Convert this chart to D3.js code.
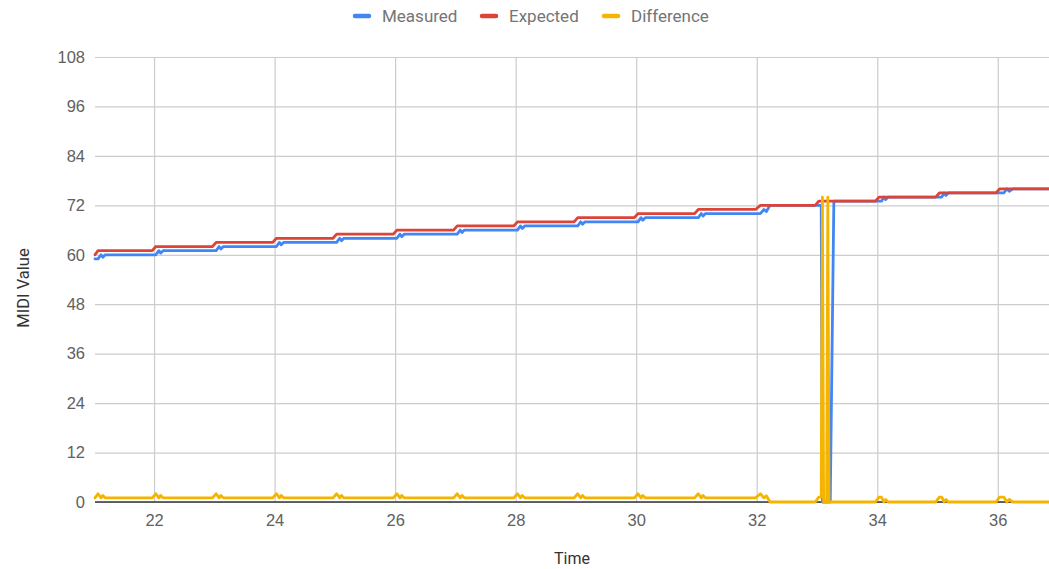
<!DOCTYPE html>
<html>
<head>
<meta charset="utf-8">
<script src="https://cdn.jsdelivr.net/npm/d3@7"></script>
<style>
  html, body { margin: 0; padding: 0; background: #fff; }
  svg { display: block; font-family: Roboto, "Noto Sans", Arial, sans-serif; }
</style>
</head>
<body>
<svg id="chart" width="1049" height="569"></svg>
<script>
// ---- Data ----
const seriesNames = ["Measured", "Expected", "Difference"];
const seriesColors = ["#4285F4", "#DB4437", "#F4B400"];

const time = [
  21.02, 21.07, 21.12, 21.15, 21.19,
  21.97, 22.03, 22.08, 22.11, 22.15,
  22.97, 23.03, 23.08, 23.11, 23.15,
  23.97, 24.03, 24.08, 24.11, 24.15,
  24.97, 25.03, 25.08, 25.11, 25.15,
  25.97, 26.03, 26.08, 26.11, 26.15,
  26.97, 27.03, 27.08, 27.11, 27.15,
  27.97, 28.03, 28.08, 28.11, 28.15,
  28.97, 29.03, 29.08, 29.11, 29.15,
  29.97, 30.03, 30.08, 30.11, 30.15,
  30.97, 31.03, 31.08, 31.11, 31.15,
  31.98, 32.06, 32.12, 32.16, 32.22,
  32.97, 33.03, 33.07, 33.09, 33.11, 33.16, 33.18, 33.20, 33.22, 33.28,
  33.97, 34.03, 34.07, 34.11, 34.14, 34.18,
  34.97, 35.03, 35.07, 35.11, 35.14, 35.18,
  35.97, 36.03, 36.10, 36.15, 36.19, 36.25,
  36.85
];

const measured = [
  59, 59, 60, 59.4, 60,
  60, 60, 61, 60.4, 61,
  61, 61, 62, 61.4, 62,
  62, 62, 63, 62.4, 63,
  63, 63, 64, 63.4, 64,
  64, 64, 65, 64.4, 65,
  65, 65, 66, 65.4, 66,
  66, 66, 67, 66.4, 67,
  67, 67, 68, 67.4, 68,
  68, 68, 69, 68.4, 69,
  69, 69, 70, 69.4, 70,
  70, 70, 71, 70.5, 72,
  72, 72, 72, 0, 0, 0, 0, 0, 0, 73,
  73, 73, 73, 74, 73.4, 74,
  74, 74, 74, 75, 74.4, 75,
  75, 75, 75, 76, 75.4, 76,
  76
];

const expected = [
  60, 61, 61, 61, 61,
  61, 62, 62, 62, 62,
  62, 63, 63, 63, 63,
  63, 64, 64, 64, 64,
  64, 65, 65, 65, 65,
  65, 66, 66, 66, 66,
  66, 67, 67, 67, 67,
  67, 68, 68, 68, 68,
  68, 69, 69, 69, 69,
  69, 70, 70, 70, 70,
  70, 71, 71, 71, 71,
  71, 72, 72, 72, 72,
  72, 73, 73, 73, 73, 73, 73, 73, 73, 73,
  73, 74, 74, 74, 74, 74,
  74, 75, 75, 75, 75, 75,
  75, 76, 76, 76, 76, 76,
  76
];

const difference = [
  1, 2, 1, 1.6, 1,
  1, 2, 1, 1.6, 1,
  1, 2, 1, 1.6, 1,
  1, 2, 1, 1.6, 1,
  1, 2, 1, 1.6, 1,
  1, 2, 1, 1.6, 1,
  1, 2, 1, 1.6, 1,
  1, 2, 1, 1.6, 1,
  1, 2, 1, 1.6, 1,
  1, 2, 1, 1.6, 1,
  1, 2, 1, 1.6, 1,
  1, 2, 1, 1.5, 0,
  0, 1.2, 1.2, 74, 0, 0, 74, 0, 0, 0,
  0, 1.2, 1.2, 0, 0.6, 0,
  0, 1.2, 1.2, 0, 0.6, 0,
  0, 1.2, 1.2, 0, 0.6, 0,
  0
];

const xTicks = [22, 24, 26, 28, 30, 32, 34, 36];
const yTicks = [0, 12, 24, 36, 48, 60, 72, 84, 96, 108];
const xTitle = "Time";
const yTitle = "MIDI Value";

// ---- Layout ----
const svg = d3.select("#chart");
const plotL = 95, plotR = 1049, plotT = 57, plotB = 502;

const x = d3.scaleLinear().domain([d3.min(time), d3.max(time)]).range([plotL, plotR]);
const y = d3.scaleLinear().domain([0, 108]).range([plotB, plotT]);

// Gridlines (horizontal)
const yAxis = d3.axisLeft(y).tickValues(yTicks).tickSize(-(plotR - plotL)).tickPadding(10).tickFormat(d3.format("d"));
const gy = svg.append("g").attr("transform", `translate(${plotL},0)`).call(yAxis);
gy.select(".domain").remove();
gy.selectAll(".tick line").attr("stroke", "#cccccc").attr("stroke-width", 1.2);
gy.selectAll(".tick text").attr("fill", "#616161").attr("font-size", 16.5).attr("x", -10);

// Gridlines (vertical)
const xAxis = d3.axisBottom(x).tickValues(xTicks).tickSize(-(plotB - plotT)).tickPadding(12).tickFormat(d3.format("d"));
const gx = svg.append("g").attr("transform", `translate(0,${plotB})`).call(xAxis);
gx.select(".domain").remove();
gx.selectAll(".tick line").attr("stroke", "#cccccc").attr("stroke-width", 1.2);
gx.selectAll(".tick text").attr("fill", "#616161").attr("font-size", 16.5);

// Baseline at 0
svg.append("line")
  .attr("x1", plotL).attr("x2", plotR)
  .attr("y1", y(0)).attr("y2", y(0))
  .attr("stroke", "#333333").attr("stroke-width", 1.3);

// Series lines
const seriesValues = [measured, expected, difference];
const line = d3.line().x(d => x(d[0])).y(d => y(d[1]));
seriesValues.forEach((vals, i) => {
  const pts = time.map((t, j) => [t, vals[j]]);
  svg.append("path")
    .datum(pts)
    .attr("d", line)
    .attr("fill", "none")
    .attr("stroke", seriesColors[i])
    .attr("stroke-width", 2.8)
    .attr("stroke-linejoin", "round")
    .attr("stroke-linecap", "round");
});

// Axis titles
svg.append("text")
  .attr("x", 572).attr("y", 564)
  .attr("text-anchor", "middle")
  .attr("fill", "#333333").attr("font-size", 16)
  .text(xTitle);

svg.append("text")
  .attr("transform", `translate(29,${288}) rotate(-90)`)
  .attr("text-anchor", "middle")
  .attr("fill", "#333333").attr("font-size", 16.5)
  .text(yTitle);

// Legend
const legendX = [353, 480, 602];
const lg = svg.append("g");
seriesNames.forEach((name, i) => {
  lg.append("line")
    .attr("x1", legendX[i] + 2).attr("x2", legendX[i] + 16)
    .attr("y1", 16).attr("y2", 16)
    .attr("stroke", seriesColors[i]).attr("stroke-width", 4.5)
    .attr("stroke-linecap", "round");
  lg.append("text")
    .attr("x", legendX[i] + 29).attr("y", 22)
    .attr("fill", "#757575").attr("font-size", 17)
    .text(name);
});
</script>
</body>
</html>
